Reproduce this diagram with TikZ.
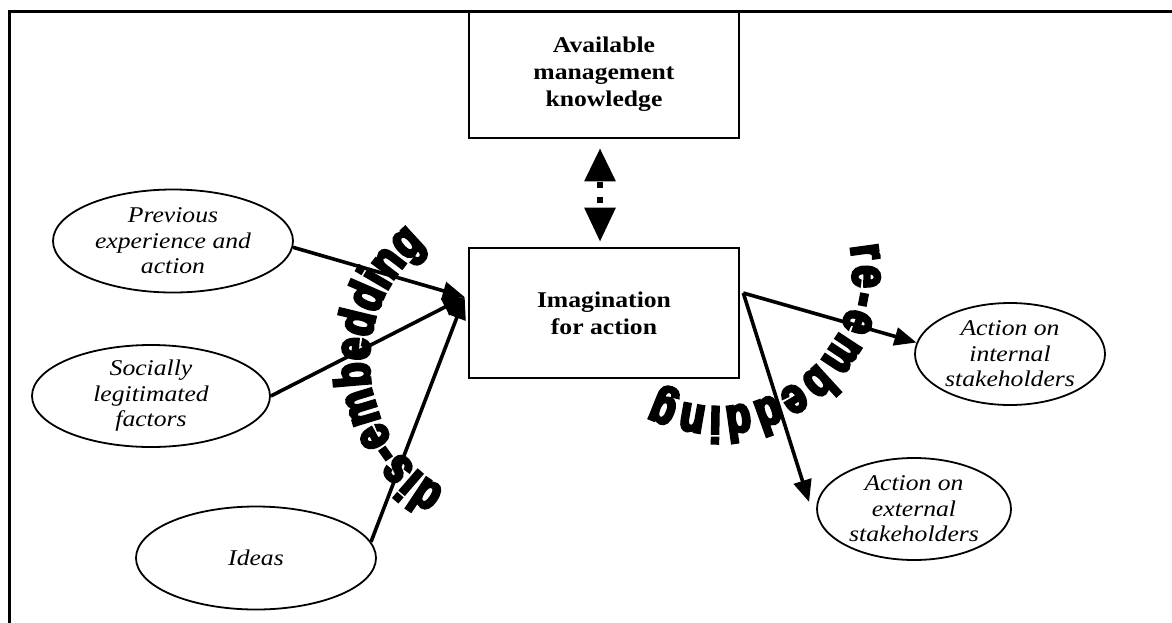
\documentclass[tikz,border=0pt]{standalone}
\usepackage{fontspec}
\setmainfont{Liberation Serif}[FakeStretch=1.14]
\newfontfamily\heavyfont{Liberation Sans}[FakeBold=6, FakeStretch=0.8]
\usetikzlibrary{arrows.meta,shapes.geometric,decorations.text}
\begin{document}
\begin{tikzpicture}[x=1pt,y=1pt,
  box/.style={draw, line width=2.6pt, minimum width=270pt, align=center, inner sep=0pt,
    font=\bfseries\fontsize{22.5}{27}\selectfont},
  oval/.style={draw, ellipse, line width=1.8pt, align=center, inner sep=0pt,
    font=\itshape\fontsize{22.5}{25.5}\selectfont},
  conn/.style={line width=3.6pt, -{Triangle[length=22pt,width=18pt]}},
  frame/.style={line width=3pt}
]
\useasboundingbox (0,0) rectangle (1172,-622);
\draw[frame] (9,-640) -- (9,-11) -- (1190,-11);

\node[box, minimum height=127pt] (akn) at (604,-74.5) {Available\\management\\knowledge};
\node[box, minimum height=130pt] (ima) at (604,-313) {Imagination\\for action};

\node[oval, minimum width=240pt, minimum height=103pt] (prev) at (173,-241) {Previous\\experience and\\action};
\node[oval, minimum width=238pt, minimum height=102pt] (soc) at (151,-396) {Socially\\legitimated\\factors};
\node[oval, minimum width=240pt, minimum height=103pt] (ideas) at (256,-558) {Ideas};
\node[oval, minimum width=190pt, minimum height=102pt] (int) at (1010,-354) {Action on\\internal\\stakeholders};
\node[oval, minimum width=194pt, minimum height=102pt] (ext) at (914,-509) {Action on\\external\\stakeholders};

\draw[line width=6pt, dash pattern=on 6pt off 9pt, dash phase=13pt,
  {Triangle[length=33pt,width=30pt]}-{Triangle[length=34pt,width=30pt]},
  shorten <=9pt, shorten >=5pt] ([xshift=-4pt]akn.south) -- ([xshift=-4pt]ima.north);

\draw[conn] (prev.-3) -- ([shift={(-3,16)}]ima.west);
\draw[conn] (soc.east) -- ([shift={(-3,16)}]ima.west);
\draw[conn] (ideas.8) -- ([shift={(-3,16)}]ima.west);

\draw[conn] ([shift={(3,20)}]ima.east) -- (int.173);
\draw[conn] ([shift={(3,20)}]ima.east) -- ([shift={(-7,7)}]ext.west);

\coordinate (lc) at (516,-361);
\coordinate (rc) at (718,-272);
\path[decorate, decoration={text along path, text align={fit to path},
  text={|\heavyfont\bfseries\fontsize{50}{50}\selectfont|dis-embedding}}]
  ([shift={(241:147)}]lc) arc[start angle=241, end angle=128, radius=147];
\path[decorate, decoration={text along path, text align={fit to path},
  text={|\heavyfont\bfseries\fontsize{50}{50}\selectfont|re-embedding}}]
  ([shift={(11:135)}]rc) arc[start angle=11, end angle=-117, radius=135];
\end{tikzpicture}
\end{document}
